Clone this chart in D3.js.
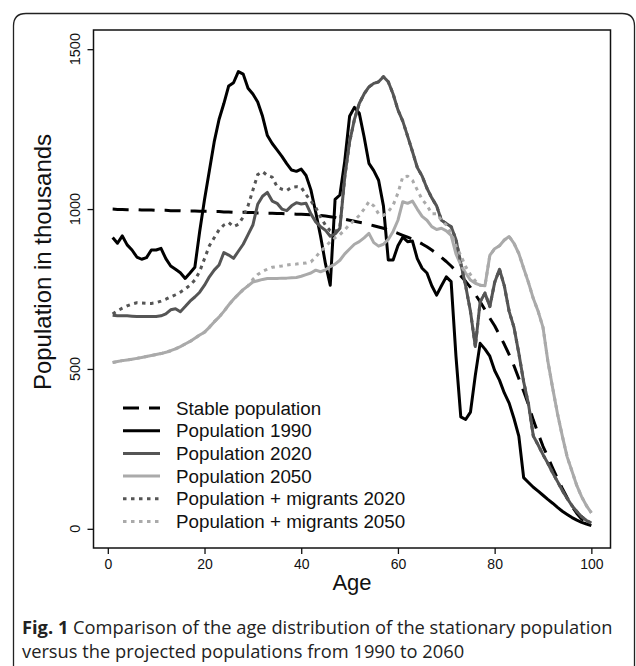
<!DOCTYPE html>
<html>
<head>
<meta charset="utf-8">
<script src="https://cdn.jsdelivr.net/npm/d3@7"></script>
<style>
  body { margin: 0; background: #fff; }
  svg text { font-family: "Liberation Sans", Arial, sans-serif; }
  svg text.caption { font-family: "Open Sans", "Noto Sans", sans-serif; }
</style>
</head>
<body>
<div id="chart"></div>
<script>
// ages 1..100
var ages = d3.range(1, 101);

// values in thousands (age 1 .. 100)
var stable = [
  1000, 999, 999, 998, 998, 998, 997, 997, 997, 996,
  996, 996, 995, 995, 995, 994, 994, 994, 993, 993,
  993, 992, 992, 991, 991, 990, 990, 990, 989, 989,
  988, 988, 987, 987, 986, 986, 985, 985, 984, 984,
  983, 982, 981, 980, 978, 976, 974, 971, 968, 965,
  962, 959, 956, 952, 948, 944, 940, 935, 930, 924,
  918, 912, 906, 899, 891, 882, 872, 861, 849, 836,
  822, 807, 791, 774, 755, 733, 710, 685, 659, 635,
  606, 577, 545, 510, 470, 430, 388, 340, 298, 258,
  225, 190, 157, 126, 97, 70, 48, 31, 19, 12
];
var pop1990 = [
  911, 893, 916, 888, 872, 850, 843, 848, 872, 872,
  877, 845, 822, 812, 801, 783, 800, 818, 930, 1030,
  1120, 1210, 1280, 1330, 1385, 1395, 1430, 1422, 1378, 1360,
  1335, 1290, 1230, 1205, 1185, 1165, 1142, 1122, 1118, 1125,
  1105, 1060, 990, 915, 830, 762, 1030, 1044, 1150, 1290,
  1318, 1300, 1226, 1143, 1120, 1090, 1010, 841, 841, 885,
  912, 898, 900, 845, 815, 800, 760, 731, 760, 788,
  773, 540, 350, 342, 365, 480, 580, 562, 540, 495,
  465, 425, 393, 345, 290, 160, 145, 130, 118, 105,
  92, 80, 67, 55, 45, 35, 27, 20, 15, 10
];
var pop2020 = [
  668, 666, 666, 666, 665, 664, 664, 664, 664, 664,
  666, 672, 685, 688, 679, 695, 712, 725, 740, 762,
  788, 809, 825, 864, 856, 846, 868, 890, 920, 950,
  1015, 1040, 1052, 1025, 1018, 1000, 995, 1010, 1020, 1016,
  1018, 985, 960, 945, 934, 915, 922, 940, 1100, 1210,
  1280, 1330, 1360, 1382, 1393, 1398, 1414, 1398, 1360, 1310,
  1275, 1228, 1180, 1130, 1103, 1065, 1035, 1010, 965, 955,
  945, 905, 830, 760, 680, 570, 710, 737, 695, 770,
  812, 760, 680, 630, 549, 460, 390, 290, 262, 232,
  205, 175, 148, 120, 95, 72, 54, 38, 26, 18
];
var pop2050 = [
  520, 523, 526, 528, 530, 533, 536, 539, 542, 545,
  548, 552, 557, 563, 570, 578, 586, 596, 606, 615,
  630, 647, 662, 680, 700, 718, 733, 748, 760, 772,
  776, 780, 783, 783, 783, 784, 784, 785, 786, 790,
  795, 800, 809, 804, 810, 820, 828, 840, 860, 875,
  890, 898, 910, 924, 895, 884, 890, 905, 930, 965,
  1023, 1018, 1025, 1000, 977, 965, 945, 936, 940, 932,
  918, 860, 825, 800, 778, 768, 762, 760, 855, 876,
  885, 903, 914, 893, 861, 815, 770, 720, 680, 630,
  525, 440, 360, 290, 225, 180, 135, 100, 72, 50
];
var mig2020 = [
  672, 682, 690, 697, 703, 707, 706, 705, 705, 707,
  712, 718, 725, 732, 740, 750, 762, 778, 805, 845,
  885, 910, 935, 950, 958, 945, 952, 975, 1010, 1059,
  1108, 1117, 1105, 1100, 1070, 1062, 1058, 1068, 1070, 1068,
  1045, 1025, 1005, 975, 950, 932, 928, 945, 1100, 1210,
  1280, 1330, 1360, 1382, 1393, 1398, 1414, 1398, 1360, 1310,
  1275, 1228, 1180, 1130, 1103, 1065, 1035, 1010, 965, 955,
  945, 905, 830, 760, 680, 570, 710, 737, 695, 770,
  812, 760, 680, 630, 549, 460, 390, 290, 262, 232,
  205, 175, 148, 120, 95, 72, 54, 38, 26, 18
];
var mig2050 = [
  520, 523, 526, 528, 530, 533, 536, 539, 542, 545,
  548, 552, 557, 563, 570, 578, 586, 596, 606, 615,
  630, 647, 662, 680, 700, 718, 733, 748, 760, 780,
  795, 805, 812, 818, 820, 822, 825, 827, 828, 830,
  831, 835, 850, 868, 882, 898, 910, 920, 935, 952,
  965, 980, 1000, 1023, 1010, 985, 980, 992, 1012, 1050,
  1101, 1103, 1090, 1060, 1030, 1012, 985, 985, 965, 950,
  925, 885, 855, 820, 795, 775, 762, 760, 855, 876,
  885, 903, 914, 893, 861, 815, 770, 720, 680, 630,
  525, 440, 360, 290, 225, 180, 135, 100, 72, 50
];

var seriesNames = ["Stable population", "Population 1990", "Population 2020",
                   "Population 2050", "Population + migrants 2020", "Population + migrants 2050"];
var seriesValues = [stable, pop1990, pop2020, pop2050, mig2020, mig2050];
var seriesColors = ["#000000", "#000000", "#555555", "#aaaaaa", "#555555", "#aaaaaa"];
var seriesDash = ["16,10", null, null, null, "3.5,4.5", "3.5,4.5"];

var xTicks = [0, 20, 40, 60, 80, 100];
var yTicks = [0, 500, 1000, 1500];

var width = 636, height = 666;

var svg = d3.select("#chart").append("svg")
    .attr("width", width)
    .attr("height", height);

// outer frame (open at the bottom)
svg.append("path")
    .attr("d", "M13.5,666 L13.5,26 Q13.5,13.5 26,13.5 L622,13.5 Q634.5,13.5 634.5,26 L634.5,666")
    .attr("fill", "none")
    .attr("stroke", "#222")
    .attr("stroke-width", 1.3);

/* ****** scales (R style 4% padding) ****** */
var x = d3.scaleLinear()
    .domain([1 - 0.04 * 99, 100 + 0.04 * 99])
    .range([93.5, 610.5]);

var y = d3.scaleLinear()
    .domain([-60, 1560])
    .range([548, 30]);

/* ****** lines ****** */
var line = d3.line()
    .x(function(d, i) { return x(ages[i]); })
    .y(function(d) { return y(d); });

var g = svg.append("g");
seriesValues.forEach(function(vals, k) {
    g.append("path")
        .datum(vals)
        .attr("d", line)
        .attr("fill", "none")
        .attr("stroke", seriesColors[k])
        .attr("stroke-width", 3)
        .attr("stroke-linejoin", "round")
        .attr("stroke-dasharray", seriesDash[k]);
});

/* ****** box ****** */
svg.append("rect")
    .attr("x", x.range()[0])
    .attr("y", y.range()[1])
    .attr("width", x.range()[1] - x.range()[0])
    .attr("height", y.range()[0] - y.range()[1])
    .attr("fill", "none")
    .attr("stroke", "#111")
    .attr("stroke-width", 1.5);

/* ****** axes ****** */
var xAxis = svg.append("g")
    .attr("transform", "translate(0," + y.range()[0] + ")")
    .call(d3.axisBottom(x).tickValues(xTicks).tickSize(6).tickPadding(5));
xAxis.select(".domain").remove();
xAxis.selectAll("line").attr("stroke", "#111").attr("stroke-width", 1.3);
xAxis.selectAll("text")
    .attr("font-size", 14).attr("fill", "#111");

var yAxis = svg.append("g")
    .attr("transform", "translate(" + x.range()[0] + ",0)")
    .call(d3.axisLeft(y).tickValues(yTicks).tickSize(6).tickFormat(""));
yAxis.select(".domain").remove();
yAxis.selectAll("line").attr("stroke", "#111").attr("stroke-width", 1.3);

svg.selectAll(".ylab")
    .data(yTicks)
    .enter().append("text")
    .attr("class", "ylab")
    .attr("transform", function(d) { return "translate(80," + y(d) + ") rotate(-90)"; })
    .attr("text-anchor", "middle")
    .attr("font-size", 14.5)
    .attr("fill", "#111")
    .text(function(d) { return d; });

svg.append("text")
    .attr("x", (x.range()[0] + x.range()[1]) / 2)
    .attr("y", 590)
    .attr("text-anchor", "middle")
    .attr("font-size", 22)
    .attr("fill", "#111")
    .text("Age");

svg.append("text")
    .attr("transform", "translate(51," + 262 + ") rotate(-90)")
    .attr("text-anchor", "middle")
    .attr("font-size", 24)
    .attr("fill", "#111")
    .text("Population in thousands");

/* ****** legend ****** */
var legend = svg.append("g").attr("transform", "translate(123,408)");
seriesNames.forEach(function(name, k) {
    var row = legend.append("g").attr("transform", "translate(0," + (k * 22.7) + ")");
    row.append("line")
        .attr("x1", 0).attr("x2", 37)
        .attr("stroke", seriesColors[k])
        .attr("stroke-width", 3)
        .attr("stroke-dasharray", seriesDash[k]);
    row.append("text")
        .attr("x", 53)
        .attr("y", 6.5)
        .attr("font-size", 18.8)
        .attr("fill", "#111")
        .text(name);
});

/* ****** caption ****** */
var cap = svg.append("text")
    .attr("class", "caption")
    .attr("font-size", 18.3)
    .attr("fill", "#222");
var l1 = cap.append("tspan").attr("x", 22).attr("y", 634);
l1.append("tspan").attr("font-weight", "bold").text("Fig. 1");
l1.append("tspan").text(" Comparison of the age distribution of the stationary population");
cap.append("tspan").attr("x", 22).attr("y", 658)
    .text("versus the projected populations from 1990 to 2060");
</script>
</body>
</html>
